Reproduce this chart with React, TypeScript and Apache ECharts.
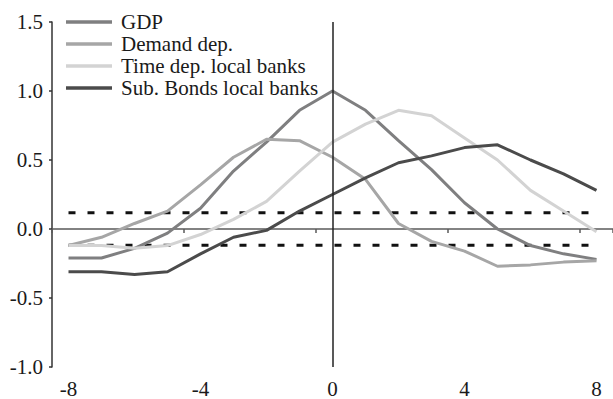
import React, { useEffect, useRef } from "react";
import * as echarts from "echarts";

const categories = ["-8", "-7", "-6", "-5", "-4", "-3", "-2", "-1", "0", "1", "2", "3", "4", "5", "6", "7", "8"];
const gdp = [-0.21, -0.21, -0.14, -0.03, 0.15, 0.42, 0.63, 0.86, 1.0, 0.86, 0.64, 0.43, 0.19, 0.0, -0.12, -0.18, -0.22];
const demandDep = [-0.12, -0.06, 0.04, 0.13, 0.32, 0.52, 0.65, 0.64, 0.52, 0.36, 0.04, -0.09, -0.16, -0.27, -0.26, -0.24, -0.23];
const timeDep = [-0.12, -0.12, -0.14, -0.12, -0.04, 0.07, 0.2, 0.42, 0.63, 0.76, 0.86, 0.82, 0.66, 0.5, 0.28, 0.13, -0.02];
const subBonds = [-0.31, -0.31, -0.33, -0.31, -0.18, -0.06, -0.01, 0.13, 0.25, 0.37, 0.48, 0.53, 0.59, 0.61, 0.5, 0.4, 0.28];
const bandUpper = categories.map(() => 0.118);
const bandLower = categories.map(() => -0.118);
const seriesNames = ["GDP", "Demand dep.", "Time dep. local banks", "Sub. Bonds local banks"];
const seriesColors = ["#7f7f80", "#a6a6a6", "#d3d3d3", "#4b4b4b"];

const FONT = "'Liberation Serif', 'Times New Roman', serif";

export default function App() {
  const ref = useRef<HTMLDivElement>(null);
  useEffect(() => {
    if (!ref.current) return;
    const chart = echarts.init(ref.current, null, { renderer: "svg" });
    const values = [gdp, demandDep, timeDep, subBonds];
    const lineSeries = values.map((d, i) => ({
      name: seriesNames[i],
      type: "line",
      xAxisIndex: 0,
      data: d,
      symbol: "none",
      lineStyle: { color: seriesColors[i], width: 3 },
      itemStyle: { color: seriesColors[i] },
      z: 3,
    }));
    chart.setOption({
      animation: false,
      backgroundColor: "#ffffff",
      textStyle: { fontFamily: FONT },
      grid: { left: 52, right: 0, top: 22, bottom: 30, containLabel: false },
      legend: {
        data: seriesNames,
        orient: "vertical",
        icon: "rect",
        left: 66,
        top: 11,
        padding: 0,
        itemGap: 0,
        itemWidth: 46,
        itemHeight: 3.5,
        textStyle: { fontFamily: FONT, fontSize: 21, color: "#1a1a1a", lineHeight: 22, padding: [0, 0, 0, 4] },
      },
      xAxis: [
        {
          type: "category",
          data: categories,
          position: "bottom",
          boundaryGap: true,
          axisLine: { show: false, onZero: false },
          axisTick: { show: false },
          axisLabel: { interval: 3, margin: 11, fontFamily: FONT, fontSize: 21, color: "#1a1a1a" },
          splitLine: { show: false },
        },
        {
          type: "category",
          data: categories,
          position: "bottom",
          boundaryGap: true,
          axisLine: { show: true, onZero: true, lineStyle: { color: "#5a5a5a", width: 1.5 } },
          axisTick: { show: true, interval: 3, alignWithLabel: false, length: 4, lineStyle: { color: "#5a5a5a", width: 1.5 } },
          axisLabel: { show: false },
          splitLine: { show: false },
        },
      ],
      yAxis: {
        type: "value",
        min: -1,
        max: 1.5,
        interval: 0.5,
        axisLine: { show: true, onZero: false, lineStyle: { color: "#333333", width: 1.5 } },
        axisTick: { show: true, length: 3, lineStyle: { color: "#333333", width: 1.5 } },
        axisLabel: {
          margin: 9,
          fontFamily: FONT,
          fontSize: 21,
          color: "#1a1a1a",
          formatter: (v: number) => v.toFixed(1),
        },
        splitLine: { show: false },
      },
      series: [
        {
          name: "band-upper",
          type: "line",
          data: bandUpper,
          symbol: "none",
          lineStyle: { color: "#111111", width: 3, type: [7, 12] },
          z: 2,
          markLine: {
            silent: true,
            symbol: "none",
            label: { show: false },
            lineStyle: { color: "#222222", width: 1.5, type: "solid" },
            data: [{ xAxis: "0" }],
          },
        },
        {
          name: "band-lower",
          type: "line",
          data: bandLower,
          symbol: "none",
          lineStyle: { color: "#111111", width: 3, type: [7, 12] },
          z: 2,
        },
        ...lineSeries,
      ],
    });
    return () => chart.dispose();
  }, []);
  return <div ref={ref} style={{ position: "fixed", left: 0, top: 0, width: 613, height: 399 }} />;
}
